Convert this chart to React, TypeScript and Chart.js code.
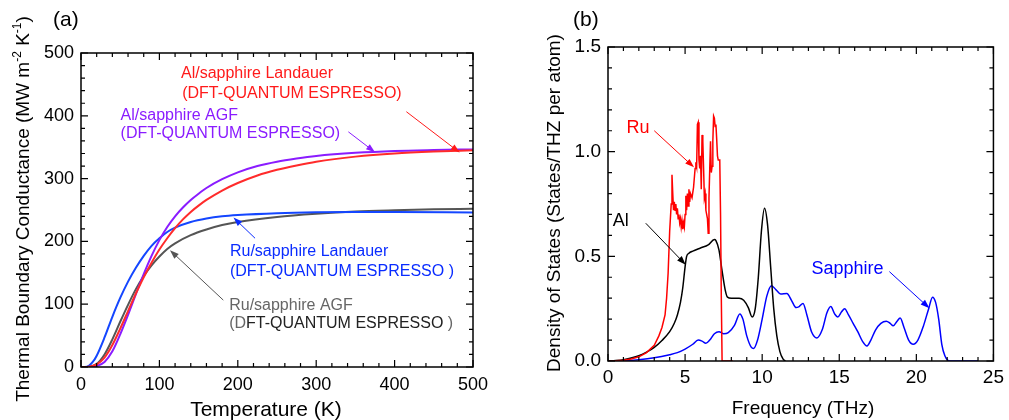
import React, { useEffect, useRef } from "react";
import { Chart, registerables } from "chart.js";
Chart.register(...registerables);

const FONT = '"Liberation Sans", Arial, Helvetica, sans-serif';

// ---------------- Panel (a): Thermal boundary conductance vs temperature ----------------
const alLandauerT = [0, 10, 20, 30, 40, 50, 60, 70, 80, 90, 100, 110, 120, 130, 140, 150, 160, 180, 200, 225, 250, 275, 300, 350, 400, 450, 500];
const alLandauerG = [0, 0.5, 4, 15, 35, 61, 89, 117, 143, 166, 187, 205, 221, 235, 247, 257, 266, 281, 293, 305, 314, 321, 327, 335, 340, 343, 345];

const alAgfT = [0, 10, 20, 30, 40, 50, 60, 70, 80, 90, 100, 110, 120, 130, 140, 150, 160, 180, 200, 225, 250, 275, 300, 350, 400, 450, 500];
const alAgfG = [0, 0.2, 1.5, 8, 25, 52, 83, 116, 148, 177, 202, 223, 240, 254, 266, 276, 285, 299, 310, 320, 327, 332, 336, 341, 344, 345.5, 346.5];

const ruLandauerT = [0, 5, 10, 15, 20, 30, 40, 50, 60, 70, 80, 90, 100, 110, 120, 140, 160, 180, 200, 250, 300, 350, 400, 500];
const ruLandauerG = [0, 0.2, 2, 8, 18, 47, 80, 110, 136, 158, 177, 193, 205, 215, 222, 231, 236.5, 240, 242, 245, 246.5, 247, 246.8, 246];

const ruAgfT = [0, 10, 20, 30, 40, 50, 60, 70, 80, 90, 100, 110, 120, 140, 160, 180, 200, 250, 300, 350, 400, 450, 500];
const ruAgfG = [0, 0.5, 5, 20, 44, 72, 99, 124, 145, 162, 176, 188, 197, 210, 219, 226, 231, 239, 244, 247.5, 249.5, 251, 252];

const tempTicks = [0, 100, 200, 300, 400, 500];
const condTicks = [0, 100, 200, 300, 400, 500];

// ---------------- Panel (b): Phonon density of states ----------------
const ruFreq = [0, 0.5, 1, 1.5, 2, 2.5, 3, 3.3, 3.5, 3.7, 3.8, 3.9, 4, 4.1, 4.15, 4.2, 4.25, 4.3, 4.35, 4.4, 4.45, 4.5, 4.55, 4.6, 4.65, 4.7, 4.75, 4.8, 4.85, 4.9, 4.95, 5, 5.05, 5.1, 5.15, 5.2, 5.25, 5.3, 5.35, 5.45, 5.55, 5.65, 5.7, 5.75, 5.8, 5.85, 5.9, 5.95, 6, 6.05, 6.1, 6.15, 6.2, 6.25, 6.3, 6.35, 6.45, 6.5, 6.55, 6.6, 6.65, 6.7, 6.75, 6.8, 6.85, 6.9, 6.95, 7, 7.05, 7.1, 7.15, 7.25, 7.3, 7.35, 7.4, 8.1];
const ruDos = [0, 0.001, 0.004, 0.01, 0.02, 0.04, 0.075, 0.12, 0.16, 0.22, 0.3, 0.42, 0.62, 0.75, 0.89, 0.8, 0.72, 0.76, 0.72, 0.75, 0.7, 0.73, 0.68, 0.7, 0.66, 0.68, 0.64, 0.67, 0.63, 0.66, 0.64, 0.7, 0.79, 0.72, 0.8, 0.74, 0.82, 0.76, 0.8, 0.78, 0.83, 0.92, 0.95, 0.93, 1.13, 1.14, 0.96, 0.92, 0.98, 0.82, 1.08, 1.05, 0.92, 0.78, 0.8, 0.72, 0.68, 0.61, 0.78, 0.92, 1.05, 0.9, 0.93, 1.05, 1.17, 1.16, 1.12, 1.13, 1.06, 0.98, 0.96, 0.96, 0.7, 0.3, 0, 0];

const alFreq = [0, 0.5, 1, 1.5, 2, 2.5, 3, 3.5, 4, 4.3, 4.5, 4.7, 4.85, 5, 5.1, 5.25, 5.5, 6, 6.5, 6.9, 7, 7.2, 7.4, 7.6, 7.75, 8, 8.5, 8.8, 9.1, 9.35, 9.55, 9.75, 9.95, 10.15, 10.35, 10.55, 10.75, 10.95, 11.15, 11.35, 11.5];
const alDos = [0, 0.002, 0.006, 0.014, 0.025, 0.042, 0.065, 0.098, 0.14, 0.18, 0.22, 0.28, 0.35, 0.45, 0.5, 0.515, 0.525, 0.54, 0.555, 0.58, 0.575, 0.53, 0.43, 0.34, 0.305, 0.3, 0.3, 0.29, 0.255, 0.21, 0.25, 0.4, 0.62, 0.73, 0.65, 0.45, 0.25, 0.12, 0.045, 0.01, 0];

const sapFreq = [0, 1, 2, 3, 4, 4.5, 5, 5.5, 5.85, 6.1, 6.35, 6.6, 6.9, 7.2, 7.5, 7.8, 8.2, 8.55, 8.75, 9, 9.3, 9.45, 9.7, 10, 10.3, 10.6, 10.9, 11.2, 11.6, 11.9, 12.2, 12.4, 12.65, 12.9, 13.2, 13.55, 13.9, 14.2, 14.45, 14.7, 14.9, 15.15, 15.35, 15.6, 15.9, 16.2, 16.5, 16.8, 17.05, 17.35, 17.7, 18.05, 18.3, 18.5, 18.75, 18.95, 19.2, 19.5, 19.8, 20.1, 20.45, 20.8, 21.05, 21.25, 21.45, 21.65, 21.85, 22.05, 22.3, 24];
const sapDos = [0, 0.001, 0.006, 0.015, 0.03, 0.04, 0.057, 0.08, 0.1, 0.095, 0.085, 0.1, 0.13, 0.14, 0.13, 0.135, 0.17, 0.225, 0.2, 0.12, 0.065, 0.06, 0.1, 0.2, 0.31, 0.36, 0.34, 0.32, 0.322, 0.29, 0.255, 0.26, 0.275, 0.22, 0.14, 0.11, 0.15, 0.23, 0.26, 0.225, 0.21, 0.235, 0.25, 0.22, 0.18, 0.14, 0.095, 0.072, 0.1, 0.148, 0.18, 0.19, 0.18, 0.168, 0.19, 0.205, 0.16, 0.1, 0.08, 0.1, 0.165, 0.25, 0.305, 0.28, 0.2, 0.08, 0.025, 0.003, 0, 0];

const freqTicks = [0, 5, 10, 15, 20, 25];
const dosTicks = [0, 0.5, 1.0, 1.5];

type Part = { text: string; color: string; sup?: boolean };
type Label = { x: number; y: number; size: number; parts: Part[] };
type Arrow = { x1: number; y1: number; x2: number; y2: number; color: string };
type Title = { x: number; y: number; size: number; rotate?: boolean; parts: Part[] };

type Decor = {
  xMinor: number; xMajor: number; yMinor: number; yMajor: number;
  labels: Label[]; arrows: Arrow[]; titles: Title[];
};

function drawParts(ctx: CanvasRenderingContext2D, parts: Part[], size: number, x: number, y: number, align: "left" | "center") {
  const width = parts.reduce((w, p) => {
    ctx.font = `${p.sup ? Math.round(size * 0.65) : size}px ${FONT}`;
    return w + ctx.measureText(p.text).width;
  }, 0);
  let cx = align === "center" ? x - width / 2 : x;
  for (const p of parts) {
    ctx.font = `${p.sup ? Math.round(size * 0.65) : size}px ${FONT}`;
    ctx.fillStyle = p.color;
    ctx.fillText(p.text, cx, p.sup ? y - size * 0.42 : y);
    cx += ctx.measureText(p.text).width;
  }
}

function decorPlugin(d: Decor) {
  return {
    id: "decor",
    afterDraw(chart: any) {
      const ctx: CanvasRenderingContext2D = chart.ctx;
      const xs = chart.scales.x;
      const ys = chart.scales.y;
      const { left, right, top, bottom } = chart.chartArea;
      ctx.save();
      ctx.strokeStyle = "#000";
      ctx.lineWidth = 1.5;
      ctx.strokeRect(left, top, right - left, bottom - top);
      ctx.lineWidth = 1.2;
      const ticks = (scale: any, minor: number, major: number, isX: boolean) => {
        const n = Math.round((scale.max - scale.min) / minor);
        for (let k = 0; k <= n; k++) {
          const v = scale.min + k * minor;
          const r = v / major;
          const isMajor = Math.abs(r - Math.round(r)) < 1e-6;
          const len = isMajor ? 7 : 4;
          const p = scale.getPixelForValue(v);
          ctx.beginPath();
          if (isX) {
            ctx.moveTo(p, bottom); ctx.lineTo(p, bottom - len);
            ctx.moveTo(p, top); ctx.lineTo(p, top + len);
          } else {
            ctx.moveTo(left, p); ctx.lineTo(left + len, p);
            ctx.moveTo(right, p); ctx.lineTo(right - len, p);
          }
          ctx.stroke();
        }
      };
      ticks(xs, d.xMinor, d.xMajor, true);
      ticks(ys, d.yMinor, d.yMajor, false);

      // annotation arrows
      for (const a of d.arrows) {
        const x1 = xs.getPixelForValue(a.x1), y1 = ys.getPixelForValue(a.y1);
        const x2 = xs.getPixelForValue(a.x2), y2 = ys.getPixelForValue(a.y2);
        const ang = Math.atan2(y2 - y1, x2 - x1);
        const hl = 9, hw = 3.2;
        ctx.strokeStyle = a.color;
        ctx.fillStyle = a.color;
        ctx.lineWidth = 1;
        ctx.beginPath();
        ctx.moveTo(x1, y1);
        ctx.lineTo(x2 - Math.cos(ang) * hl * 0.8, y2 - Math.sin(ang) * hl * 0.8);
        ctx.stroke();
        const bx = x2 - Math.cos(ang) * hl, by = y2 - Math.sin(ang) * hl;
        ctx.beginPath();
        ctx.moveTo(x2, y2);
        ctx.lineTo(bx + Math.sin(ang) * hw, by - Math.cos(ang) * hw);
        ctx.lineTo(bx - Math.sin(ang) * hw, by + Math.cos(ang) * hw);
        ctx.closePath();
        ctx.fill();
      }

      // annotation labels (positioned in data coordinates)
      ctx.textBaseline = "middle";
      ctx.textAlign = "left";
      for (const l of d.labels) {
        drawParts(ctx, l.parts, l.size, xs.getPixelForValue(l.x), ys.getPixelForValue(l.y), "left");
      }

      // axis titles and panel letters
      ctx.textBaseline = "alphabetic";
      for (const t of d.titles) {
        if (t.rotate) {
          ctx.save();
          ctx.translate(t.x, t.y);
          ctx.rotate(-Math.PI / 2);
          drawParts(ctx, t.parts, t.size, 0, 0, "center");
          ctx.restore();
        } else {
          drawParts(ctx, t.parts, t.size, t.x, t.y, t.rotate === false ? "left" : "center");
        }
      }
      ctx.restore();
    },
  };
}

type Series = { xs: number[]; ys: number[]; color: string; width: number; smooth: boolean };

function buildConfig(opts: {
  series: Series[]; xMin: number; xMax: number; yMin: number; yMax: number;
  xTicks: number[]; yTicks: number[]; yFmt: (v: number) => string;
  tickSize: number; xPad: number; yPad: number;
  leftW: number; bottomH: number; padTop: number; padRight: number; decor: Decor;
}) {
  return {
    type: "line" as const,
    data: {
      datasets: opts.series.map((s) => ({
        data: s.xs.map((x, i) => ({ x, y: s.ys[i] })),
        borderColor: s.color,
        backgroundColor: s.color,
        borderWidth: s.width,
        pointRadius: 0,
        fill: false,
        cubicInterpolationMode: s.smooth ? ("monotone" as const) : ("default" as const),
        tension: 0,
      })),
    },
    options: {
      animation: false as const,
      responsive: false,
      devicePixelRatio: 1,
      layout: { padding: { left: 0, top: opts.padTop, right: opts.padRight, bottom: 0 } },
      plugins: { legend: { display: false }, tooltip: { enabled: false } },
      scales: {
        x: {
          type: "linear" as const,
          min: opts.xMin, max: opts.xMax,
          grid: { display: false, drawTicks: false },
          border: { display: false },
          afterBuildTicks: (s: any) => { s.ticks = opts.xTicks.map((v) => ({ value: v })); },
          ticks: { color: "#000", font: { family: FONT, size: opts.tickSize }, padding: opts.xPad, maxRotation: 0, autoSkip: false },
          afterFit: (s: any) => { s.height = opts.bottomH; },
        },
        y: {
          type: "linear" as const,
          min: opts.yMin, max: opts.yMax,
          grid: { display: false, drawTicks: false },
          border: { display: false },
          afterBuildTicks: (s: any) => { s.ticks = opts.yTicks.map((v) => ({ value: v })); },
          ticks: { color: "#000", font: { family: FONT, size: opts.tickSize }, padding: opts.yPad, autoSkip: false, callback: (v: any) => opts.yFmt(Number(v)) },
          afterFit: (s: any) => { s.width = opts.leftW; },
        },
      },
    },
    plugins: [decorPlugin(opts.decor)],
  };
}

const RED_A = "#ff2b2b";
const PURPLE_A = "#8a1cff";
const BLUE_A = "#1446ff";
const GRAY_A = "#555555";

const configA = () =>
  buildConfig({
    series: [
      { xs: alLandauerT, ys: alLandauerG, color: RED_A, width: 2, smooth: true },
      { xs: alAgfT, ys: alAgfG, color: PURPLE_A, width: 2, smooth: true },
      { xs: ruLandauerT, ys: ruLandauerG, color: BLUE_A, width: 2, smooth: true },
      { xs: ruAgfT, ys: ruAgfG, color: GRAY_A, width: 2, smooth: true },
    ],
    xMin: 0, xMax: 500, yMin: 0, yMax: 500,
    xTicks: tempTicks, yTicks: condTicks, yFmt: (v) => String(v),
    tickSize: 18, xPad: 7, yPad: 7,
    leftW: 81, bottomH: 53, padTop: 53, padRight: 27,
    decor: {
      xMinor: 20, xMajor: 100, yMinor: 20, yMajor: 100,
      labels: [
        { x: 127.5, y: 468, size: 16, parts: [{ text: "Al/sapphire Landauer", color: "#ff1a1a" }] },
        { x: 129, y: 435, size: 16, parts: [{ text: "(DFT-QUANTUM ESPRESSO)", color: "#ff1a1a" }] },
        { x: 50.5, y: 400, size: 16, parts: [{ text: "Al/sapphire AGF", color: PURPLE_A }] },
        { x: 50.5, y: 371, size: 16, parts: [{ text: "(DFT-QUANTUM ESPRESSO)", color: PURPLE_A }] },
        { x: 190, y: 183.5, size: 16, parts: [{ text: "Ru/sapphire Landauer", color: "#0a2cff" }] },
        { x: 190, y: 152, size: 16, parts: [{ text: "(DFT-QUANTUM ESPRESSO )", color: "#0a2cff" }] },
        { x: 189, y: 98.5, size: 16, parts: [{ text: "Ru/sapphire AGF", color: "#666666" }] },
        { x: 189, y: 68.5, size: 16, parts: [{ text: "(D", color: "#666666" }, { text: "FT-QUANTUM ESPRESSO", color: "#222222" }, { text: " )", color: "#666666" }] },
      ],
      arrows: [
        { x1: 415, y1: 406.5, x2: 483, y2: 341.5, color: "#ff1a1a" },
        { x1: 341, y1: 374.5, x2: 375, y2: 342, color: PURPLE_A },
        { x1: 222, y1: 205, x2: 194.5, y2: 238, color: "#0a2cff" },
        { x1: 181.5, y1: 106.5, x2: 113.5, y2: 186, color: GRAY_A },
      ],
      titles: [
        { x: 266, y: 416, size: 21, parts: [{ text: "Temperature (K)", color: "#000" }] },
        {
          x: 28.5, y: 209, size: 19, rotate: true,
          parts: [
            { text: "Thermal Boundary Conductance (MW m", color: "#000" },
            { text: "-2", color: "#000", sup: true },
            { text: " K", color: "#000" },
            { text: "-1", color: "#000", sup: true },
            { text: ")", color: "#000" },
          ],
        },
        { x: 53, y: 26, size: 21, rotate: false, parts: [{ text: "(a)", color: "#000" }] },
      ],
    },
  });

const configB = () =>
  buildConfig({
    series: [
      { xs: ruFreq, ys: ruDos, color: "#ff0000", width: 1.5, smooth: false },
      { xs: alFreq, ys: alDos, color: "#000000", width: 1.5, smooth: true },
      { xs: sapFreq, ys: sapDos, color: "#0000ff", width: 1.5, smooth: true },
    ],
    xMin: 0, xMax: 25, yMin: 0, yMax: 1.5,
    xTicks: freqTicks, yTicks: dosTicks, yFmt: (v) => v.toFixed(1),
    tickSize: 19, xPad: 5, yPad: 7,
    leftW: 108, bottomH: 59, padTop: 47, padRight: 11,
    decor: {
      xMinor: 1, xMajor: 5, yMinor: 0.1, yMajor: 0.5,
      labels: [
        { x: 1.2, y: 1.115, size: 18, parts: [{ text: "Ru", color: "#ff0000" }] },
        { x: 0.3, y: 0.667, size: 18, parts: [{ text: "Al", color: "#000000" }] },
        { x: 13.2, y: 0.44, size: 18, parts: [{ text: "Sapphire", color: "#0000ff" }] },
      ],
      arrows: [
        { x1: 3.0, y1: 1.1, x2: 5.58, y2: 0.925, color: "#ff0000" },
        { x1: 2.45, y1: 0.658, x2: 5.04, y2: 0.46, color: "#000000" },
        { x1: 18.25, y1: 0.427, x2: 20.85, y2: 0.252, color: "#0000ff" },
      ],
      titles: [
        { x: 303, y: 414, size: 19, parts: [{ text: "Frequency (THz)", color: "#000" }] },
        { x: 60, y: 203, size: 19, rotate: true, parts: [{ text: "Density of States (States/THZ per atom)", color: "#000" }] },
        { x: 73, y: 26, size: 21, rotate: false, parts: [{ text: "(b)", color: "#000" }] },
      ],
    },
  });

function ChartCanvas(props: { left: number; width: number; height: number; make: () => any }) {
  const ref = useRef<HTMLCanvasElement>(null);
  useEffect(() => {
    const chart = new Chart(ref.current as HTMLCanvasElement, props.make());
    return () => chart.destroy();
  }, []);
  return (
    <canvas
      ref={ref}
      width={props.width}
      height={props.height}
      style={{ position: "absolute", left: props.left, top: 0, width: props.width, height: props.height }}
    />
  );
}

export default function App() {
  return (
    <div style={{ position: "fixed", left: 0, top: 0, width: 1009, height: 420, background: "#fff", overflow: "hidden" }}>
      <ChartCanvas left={0} width={500} height={420} make={configA} />
      <ChartCanvas left={500} width={509} height={420} make={configB} />
    </div>
  );
}
